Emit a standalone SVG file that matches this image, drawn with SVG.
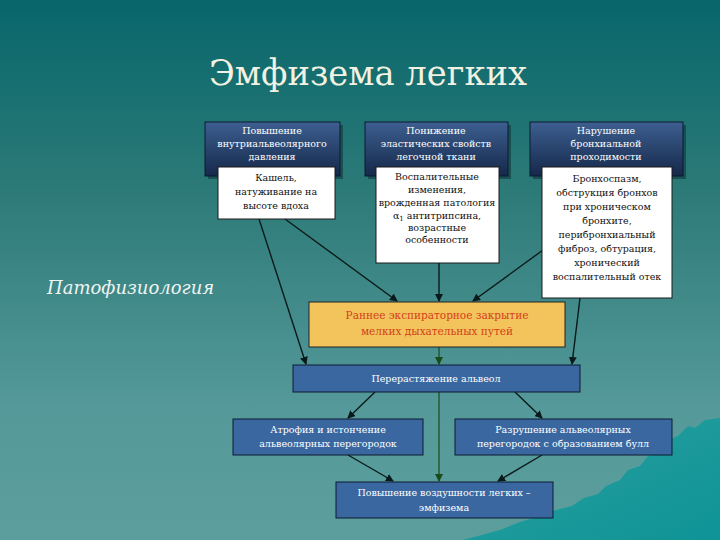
<svg xmlns="http://www.w3.org/2000/svg" width="720" height="540" viewBox="0 0 720 540">
<defs>
<linearGradient id="bg" x1="0" y1="0" x2="0" y2="1">
<stop offset="0" stop-color="#07666a"/>
<stop offset="0.35" stop-color="#2c7a78"/>
<stop offset="0.75" stop-color="#55999a"/>
<stop offset="1" stop-color="#5b9e9c"/>
</linearGradient>
<linearGradient id="wave" x1="0" y1="0" x2="1" y2="1">
<stop offset="0" stop-color="#2aa0a0"/>
<stop offset="1" stop-color="#0f9396"/>
</linearGradient>
<linearGradient id="hdr" x1="0" y1="0" x2="0" y2="1">
<stop offset="0" stop-color="#3d5f90"/>
<stop offset="1" stop-color="#15284a"/>
</linearGradient>
<marker id="ah" markerWidth="8" markerHeight="8" refX="7" refY="4" orient="auto" markerUnits="userSpaceOnUse">
<path d="M0,0 L8,4 L0,8 Z" fill="#0a1a1a"/>
</marker>
<marker id="ahg" markerWidth="8" markerHeight="8" refX="7" refY="4" orient="auto" markerUnits="userSpaceOnUse">
<path d="M0,0 L8,4 L0,8 Z" fill="#1a4a1a"/>
</marker>
<style>
.hdr{fill:url(#hdr);stroke:#0c1a30;stroke-width:1}
.sh{fill:#0a2a30;opacity:0.5}
.wb{fill:#ffffff;stroke:#1a1a1a;stroke-width:1}
.bb{fill:#3a67a0;stroke:#0c1a30;stroke-width:1}
.ob{fill:#f3c45c;stroke:#222;stroke-width:1}
.serif{font-family:"DejaVu Serif","Liberation Serif",serif}
.t{font-family:"DejaVu Serif","Liberation Serif",serif;font-size:9.5px;text-anchor:middle}
.tw{fill:#ffffff}
.tk{fill:#111111}
.to{fill:#d2401a;font-size:10.5px}
.ln{stroke:#0a1a1a;stroke-width:1.4;fill:none;marker-end:url(#ah)}
.lg{stroke:#1a4a1a;stroke-width:1.2;fill:none;marker-end:url(#ahg)}
</style>
</defs>
<rect x="0" y="0" width="720" height="540" fill="url(#bg)"/>
<path d="M720,418 L705,420 L695,428 L688,426 L678,436 L668,440 L660,452 L648,456 L640,466 L628,470 L620,480 L606,486 L598,494 L584,498 L572,506 L556,510 L540,516 L520,522 L500,530 L478,536 L462,540 L720,540 Z" fill="url(#wave)"/>
<text class="serif" x="368" y="85" font-size="36" fill="#f2f2e2" text-anchor="middle" textLength="318" lengthAdjust="spacingAndGlyphs">Эмфизема легких</text>
<text class="serif" x="47" y="294" font-size="18" font-style="italic" fill="#f0f4f0">Патофизиология</text>

<g id="connectors">
<line class="ln" x1="259" y1="219" x2="306" y2="364"/>
<line class="ln" x1="285" y1="219" x2="397" y2="301"/>
<line class="ln" x1="439" y1="263" x2="439" y2="301"/>
<line class="ln" x1="543" y1="250" x2="473" y2="301"/>
<line class="ln" x1="580" y1="298" x2="572" y2="364"/>
<line class="lg" x1="439" y1="347" x2="439" y2="364"/>
<line class="ln" x1="375" y1="392" x2="348" y2="418"/>
<line class="ln" x1="515" y1="392" x2="542" y2="418"/>
<line class="lg" x1="439" y1="392" x2="439" y2="481"/>
<line class="ln" x1="348" y1="455" x2="393" y2="481"/>
<line class="ln" x1="542" y1="455" x2="498" y2="481"/>
</g>

<g id="h1">
<rect class="sh" x="208" y="125" width="135" height="54"/>
<rect class="hdr" x="205" y="122" width="135" height="54"/>
<text class="t tw" x="272" y="134">Повышение</text>
<text class="t tw" x="272" y="147">внутриальвеолярного</text>
<text class="t tw" x="272" y="160">давления</text>
</g>
<g id="h2">
<rect class="sh" x="368" y="125" width="143" height="54"/>
<rect class="hdr" x="365" y="122" width="143" height="54"/>
<text class="t tw" x="436" y="134">Понижение</text>
<text class="t tw" x="436" y="147">эластических свойств</text>
<text class="t tw" x="436" y="160">легочной ткани</text>
</g>
<g id="h3">
<rect class="sh" x="533" y="125" width="153" height="54"/>
<rect class="hdr" x="530" y="122" width="153" height="54"/>
<text class="t tw" x="606" y="134">Нарушение</text>
<text class="t tw" x="606" y="147">бронхиальной</text>
<text class="t tw" x="606" y="160">проходимости</text>
</g>

<g id="w1">
<rect class="wb" x="218" y="167" width="117" height="52"/>
<text class="t tk" x="276" y="181">Кашель,</text>
<text class="t tk" x="276" y="195">натуживание на</text>
<text class="t tk" x="276" y="209">высоте вдоха</text>
</g>
<g id="w2">
<rect class="wb" x="376" y="167" width="123" height="96"/>
<text class="t tk" x="437" y="180">Воспалительные</text>
<text class="t tk" x="437" y="193">изменения,</text>
<text class="t tk" x="437" y="206">врожденная патология</text>
<text class="t tk" x="437" y="219">α<tspan font-size="7" dy="2">1</tspan><tspan dy="-2"> антитрипсина,</tspan></text>
<text class="t tk" x="437" y="231">возрастные</text>
<text class="t tk" x="437" y="243">особенности</text>
</g>
<g id="w3">
<rect class="wb" x="542" y="167" width="130" height="131"/>
<text class="t tk" x="607" y="182">Бронхоспазм,</text>
<text class="t tk" x="607" y="196">обструкция бронхов</text>
<text class="t tk" x="607" y="210">при хроническом</text>
<text class="t tk" x="607" y="224">бронхите,</text>
<text class="t tk" x="607" y="238">перибронхиальный</text>
<text class="t tk" x="607" y="252">фиброз, обтурация,</text>
<text class="t tk" x="607" y="266">хронический</text>
<text class="t tk" x="607" y="280">воспалительный отек</text>
</g>

<g id="early">
<rect class="ob" x="309" y="302" width="256" height="45"/>
<text class="t to" x="437" y="319">Раннее экспираторное закрытие</text>
<text class="t to" x="437" y="335">мелких дыхательных путей</text>
</g>
<g id="overstretch">
<rect class="bb" x="293" y="365" width="287" height="27"/>
<text class="t tw" x="436" y="382" font-size="10">Перерастяжение альвеол</text>
</g>
<g id="atrophy">
<rect class="bb" x="233" y="419" width="190" height="36"/>
<text class="t tw" x="328" y="433">Атрофия и истончение</text>
<text class="t tw" x="328" y="447">альвеолярных перегородок</text>
</g>
<g id="destruction">
<rect class="bb" x="455" y="419" width="217" height="36"/>
<text class="t tw" x="563" y="433">Разрушение альвеолярных</text>
<text class="t tw" x="563" y="447">перегородок с образованием булл</text>
</g>
<g id="emphysema">
<rect class="bb" x="336" y="482" width="217" height="36"/>
<text class="t tw" x="444" y="496">Повышение воздушности легких –</text>
<text class="t tw" x="444" y="511">эмфизема</text>
</g>
</svg>
